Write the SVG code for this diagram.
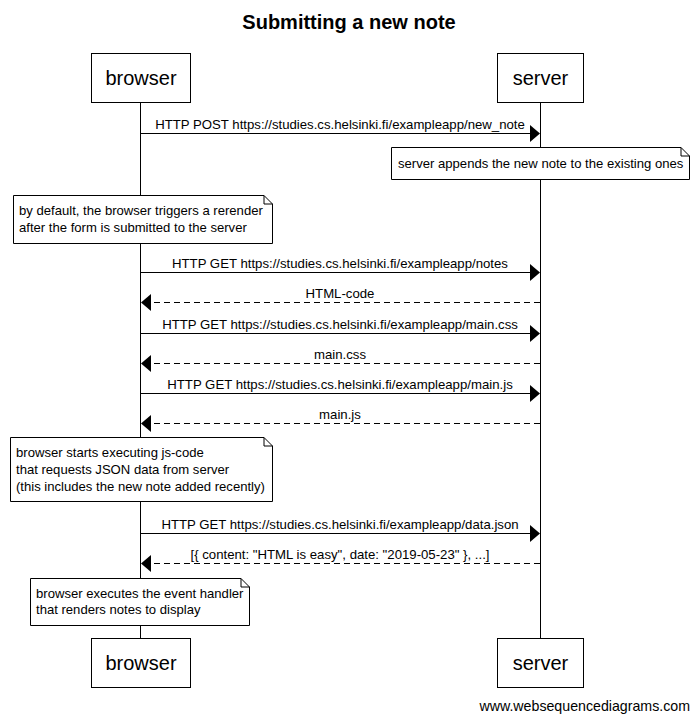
<svg xmlns="http://www.w3.org/2000/svg" width="699" height="721" viewBox="0 0 699 721">
<style>
text{font-family:"Liberation Sans",Arial,sans-serif;fill:#000}
.actor{fill:#fff;stroke:#000;stroke-width:1}
.an{font-size:20px;text-anchor:middle}
.life{stroke:#000;stroke-width:1}
.msg{stroke:#000;stroke-width:1;fill:none}
.dash{stroke-dasharray:6,4}
.lbl{font-size:13.2px;text-anchor:middle}
.note{fill:#fff;stroke:#000;stroke-width:1}
.nt{font-size:13.1px}
.head{fill:#000}
</style>
<rect width="699" height="721" fill="#fff"/>
<text x="349" y="29" font-size="20" font-weight="bold" text-anchor="middle">Submitting a new note</text>
<g id="lifelines">
<line class="life" x1="140.5" y1="102" x2="140.5" y2="638"/>
<line class="life" x1="540.5" y1="102" x2="540.5" y2="638"/>
</g>
<g id="browser">
<rect class="actor" x="91.5" y="53.5" width="99" height="49"/>
<text class="an" x="141" y="85">browser</text>
</g>
<g id="server">
<rect class="actor" x="497.5" y="53.5" width="86" height="49"/>
<text class="an" x="540.5" y="85">server</text>
</g>
<g id="browser-bottom">
<rect class="actor" x="91.5" y="638.5" width="99" height="49"/>
<text class="an" x="141" y="670">browser</text>
</g>
<g id="server-bottom">
<rect class="actor" x="497.5" y="638.5" width="86" height="49"/>
<text class="an" x="540.5" y="670">server</text>
</g>
<g id="connectors">
<line class="msg" x1="140.5" y1="133.5" x2="532" y2="133.5"/>
<polygon class="head" points="530,125 540,133.5 530,142"/>
<text class="lbl" x="340" y="129">HTTP POST https://studies.cs.helsinki.fi/exampleapp/new_note</text>

<line class="msg" x1="140.5" y1="272.5" x2="532" y2="272.5"/>
<polygon class="head" points="530,264 540,272.5 530,281"/>
<text class="lbl" x="340" y="268">HTTP GET https://studies.cs.helsinki.fi/exampleapp/notes</text>

<line class="msg dash" x1="540" y1="302.5" x2="149" y2="302.5"/>
<polygon class="head" points="151,294 141,302.5 151,311"/>
<text class="lbl" x="340" y="298">HTML-code</text>

<line class="msg" x1="140.5" y1="333.5" x2="532" y2="333.5"/>
<polygon class="head" points="530,325 540,333.5 530,342"/>
<text class="lbl" x="340" y="329">HTTP GET https://studies.cs.helsinki.fi/exampleapp/main.css</text>

<line class="msg dash" x1="540" y1="363.5" x2="149" y2="363.5"/>
<polygon class="head" points="151,355 141,363.5 151,372"/>
<text class="lbl" x="340" y="359">main.css</text>

<line class="msg" x1="140.5" y1="393.5" x2="532" y2="393.5"/>
<polygon class="head" points="530,385 540,393.5 530,402"/>
<text class="lbl" x="340" y="389">HTTP GET https://studies.cs.helsinki.fi/exampleapp/main.js</text>

<line class="msg dash" x1="540" y1="423.5" x2="149" y2="423.5"/>
<polygon class="head" points="151,415 141,423.5 151,432"/>
<text class="lbl" x="340" y="419">main.js</text>

<line class="msg" x1="140.5" y1="533.5" x2="532" y2="533.5"/>
<polygon class="head" points="530,525 540,533.5 530,542"/>
<text class="lbl" x="340" y="529">HTTP GET https://studies.cs.helsinki.fi/exampleapp/data.json</text>

<line class="msg dash" x1="540" y1="563.5" x2="149" y2="563.5"/>
<polygon class="head" points="151,555 141,563.5 151,572"/>
<text class="lbl" x="340" y="559">[{ content: "HTML is easy", date: "2019-05-23" }, ...]</text>
</g>
<g id="note1">
<path class="note" d="M391.5,147.5 H681 L689.5,156 V179.5 H391.5 Z"/>
<path class="msg" d="M681,147.5 V156 H689.5"/>
<text class="nt" x="398" y="168">server appends the new note to the existing ones</text>
</g>
<g id="note2">
<path class="note" d="M13.5,195.5 H264 L272.5,204 V243.5 H13.5 Z"/>
<path class="msg" d="M264,195.5 V204 H272.5"/>
<text class="nt" x="19" y="215">by default, the browser triggers a rerender</text>
<text class="nt" x="19" y="232">after the form is submitted to the server</text>
</g>
<g id="note3">
<path class="note" d="M10.5,437.5 H264 L272.5,446 V501.5 H10.5 Z"/>
<path class="msg" d="M264,437.5 V446 H272.5"/>
<text class="nt" x="16" y="457">browser starts executing js-code</text>
<text class="nt" x="16" y="474">that requests JSON data from server</text>
<text class="nt" x="16" y="491">(this includes the new note added recently)</text>
</g>
<g id="note4">
<path class="note" d="M30.5,578.5 H241 L249.5,587 V625.5 H30.5 Z"/>
<path class="msg" d="M241,578.5 V587 H249.5"/>
<text class="nt" x="36" y="598">browser executes the event handler</text>
<text class="nt" x="36" y="614">that renders notes to display</text>
</g>
<text x="690" y="711" font-size="14.2" text-anchor="end">www.websequencediagrams.com</text>
</svg>
